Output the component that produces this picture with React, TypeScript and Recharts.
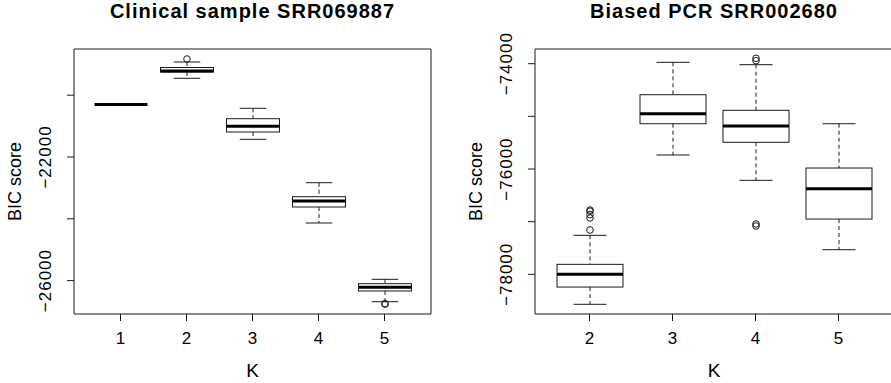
import { Bar, ComposedChart, XAxis, YAxis } from 'recharts'

// left panel: clinical sample
const leftK = ['1', '2', '3', '4', '5']
const leftLow = [-20301, -19453, -21427, -24136, -26683]
const leftQ1 = [-20301, -19249, -21191, -23618, -26336]
const leftMedian = [-20301, -19217, -21007, -23424, -26217]
const leftQ3 = [-20301, -19104, -20761, -23285, -26100]
const leftHigh = [-20301, -18926, -20424, -22832, -25958]
const leftOutliers = [[], [-18829], [], [], [-26747, -26760]]
const leftDomain: [number, number] = [-27081, -18505]
const leftTicks = [-26000, -24000, -22000, -20000]
const leftTickLabels = [-26000, -22000]

// right panel: biased PCR
const rightK = ['2', '3', '4', '5']
const rightLow = [-78569, -75734, -76215, -77532]
const rightQ1 = [-78241, -75140, -75493, -76950]
const rightMedian = [-78000, -74950, -75183, -76374]
const rightQ3 = [-77810, -74589, -74885, -75981]
const rightHigh = [-77259, -73974, -74019, -75140]
const rightOutliers = [
  [-77158, -76930, -76865, -76800, -76780],
  [],
  [-73898, -73943, -77044, -77082],
  [],
]
const rightDomain: [number, number] = [-78753, -73721]
const rightTicks = [-78000, -77000, -76000, -75000, -74000]
const rightTickLabels = [-78000, -76000, -74000]

const INK = '#1a1a1a'
const FONT = '"Liberation Sans", Arial, Helvetica, sans-serif'

function buildRows(
  ks: string[],
  lo: number[],
  q1: number[],
  med: number[],
  q3: number[],
  hi: number[],
  out: number[][],
  domain: [number, number],
) {
  return ks.map((k, i) => ({
    k,
    span: domain,
    lo: lo[i],
    q1: q1[i],
    med: med[i],
    q3: q3[i],
    hi: hi[i],
    out: out[i],
  }))
}

function BoxShape(props: any) {
  const { x, y, width, height, payload } = props
  const [dMin, dMax] = payload.span
  const top = Math.min(y, y + height)
  const h = Math.abs(height)
  const py = (v: number) => top + ((dMax - v) / (dMax - dMin)) * h
  const cx = x + width / 2
  const cap = width / 4
  return (
    <g>
      <line x1={cx} x2={cx} y1={py(payload.hi)} y2={py(payload.q3)} stroke={INK} strokeDasharray="4 3" />
      <line x1={cx} x2={cx} y1={py(payload.q1)} y2={py(payload.lo)} stroke={INK} strokeDasharray="4 3" />
      <line x1={cx - cap} x2={cx + cap} y1={py(payload.hi)} y2={py(payload.hi)} stroke={INK} />
      <line x1={cx - cap} x2={cx + cap} y1={py(payload.lo)} y2={py(payload.lo)} stroke={INK} />
      <rect
        x={x}
        y={py(payload.q3)}
        width={width}
        height={py(payload.q1) - py(payload.q3)}
        fill="#fff"
        stroke={INK}
      />
      <line x1={x} x2={x + width} y1={py(payload.med)} y2={py(payload.med)} stroke="#000" strokeWidth={3} />
      {payload.out.map((v: number, j: number) => (
        <circle key={j} cx={cx} cy={py(v)} r={3.3} fill="none" stroke={INK} />
      ))}
    </g>
  )
}

function fmt(v: number) {
  return String(v).replace('-', '\u2212')
}

function YTick(props: any) {
  const { x, y, payload, labels } = props
  if (!labels.includes(payload.value)) return <g />
  return (
    <text
      x={x}
      y={y}
      transform={`rotate(-90, ${x}, ${y})`}
      textAnchor="middle"
      fontSize={17}
      letterSpacing={1}
      fill="#000"
    >
      {fmt(payload.value)}
    </text>
  )
}

function YTitle(props: any) {
  const vb = props.viewBox || {}
  const x = vb.x + 7
  const y = vb.y + vb.height / 2
  return (
    <text x={x} y={y} transform={`rotate(-90, ${x}, ${y})`} textAnchor="middle" fontSize={18} fill="#000">
      BIC score
    </text>
  )
}

function XTitle(props: any) {
  const vb = props.viewBox || {}
  return (
    <text x={vb.x + vb.width / 2} y={vb.y + 63} textAnchor="middle" fontSize={19} fill="#000">
      K
    </text>
  )
}

function BoxPanel({
  title,
  rows,
  domain,
  ticks,
  tickLabels,
  width,
  marginLeft,
  marginRight,
  pad,
  barSize,
}: {
  title: string
  rows: any[]
  domain: [number, number]
  ticks: number[]
  tickLabels: number[]
  width: number
  marginLeft: number
  marginRight: number
  pad: number
  barSize: number
}) {
  const plotLeft = marginLeft + 60
  const plotWidth = width - plotLeft - marginRight
  return (
    <div style={{ position: 'relative', width, height: 383 }}>
      <div
        style={{
          position: 'absolute',
          left: plotLeft,
          top: 0,
          width: plotWidth,
          textAlign: 'center',
          fontSize: 20,
          letterSpacing: 1,
          lineHeight: 'normal',
          fontWeight: 'bold',
          color: '#000',
          whiteSpace: 'nowrap',
        }}
      >
        {title}
      </div>
      <ComposedChart
        width={width}
        height={383}
        data={rows}
        margin={{ top: 48, right: marginRight - 1, bottom: 0, left: marginLeft }}
      >
        <XAxis
          dataKey="k"
          interval={0}
          padding={{ left: pad, right: pad }}
          tickSize={7}
          tickMargin={11}
          height={69}
          axisLine={{ stroke: INK }}
          tickLine={{ stroke: INK }}
          tick={{ fontSize: 17, fill: '#000' }}
          label={<XTitle />}
        />
        <XAxis
          xAxisId="top"
          orientation="top"
          dataKey="k"
          height={1}
          tick={false}
          tickLine={false}
          axisLine={{ stroke: INK }}
        />
        <YAxis
          type="number"
          domain={domain}
          ticks={ticks}
          allowDataOverflow
          width={60}
          tickSize={7}
          tickMargin={16}
          axisLine={{ stroke: INK }}
          tickLine={{ stroke: INK }}
          tick={(p: any) => <YTick {...p} labels={tickLabels} />}
          label={<YTitle />}
        />
        <YAxis
          yAxisId="right"
          orientation="right"
          type="number"
          domain={domain}
          width={1}
          tick={false}
          tickLine={false}
          axisLine={{ stroke: INK }}
        />
        <Bar dataKey="span" barSize={barSize} shape={<BoxShape />} isAnimationActive={false} />
      </ComposedChart>
    </div>
  )
}

export default function App() {
  const leftRows = buildRows(leftK, leftLow, leftQ1, leftMedian, leftQ3, leftHigh, leftOutliers, leftDomain)
  const rightRows = buildRows(rightK, rightLow, rightQ1, rightMedian, rightQ3, rightHigh, rightOutliers, rightDomain)
  return (
    <div
      style={{
        position: 'absolute',
        left: 0,
        top: 0,
        width: 891,
        height: 383,
        overflow: 'hidden',
        background: '#fff',
        fontFamily: FONT,
      }}
    >
      <div style={{ position: 'absolute', left: 0, top: 0 }}>
        <BoxPanel
          title="Clinical sample SRR069887"
          rows={leftRows}
          domain={leftDomain}
          ticks={leftTicks}
          tickLabels={leftTickLabels}
          width={445}
          marginLeft={14}
          marginRight={14}
          pad={13.5}
          barSize={53}
        />
      </div>
      <div style={{ position: 'absolute', left: 445, top: 0 }}>
        <BoxPanel
          title="Biased PCR SRR002680"
          rows={rightRows}
          domain={rightDomain}
          ticks={rightTicks}
          tickLabels={rightTickLabels}
          width={460}
          marginLeft={30}
          marginRight={12}
          pad={13}
          barSize={66}
        />
      </div>
    </div>
  )
}
